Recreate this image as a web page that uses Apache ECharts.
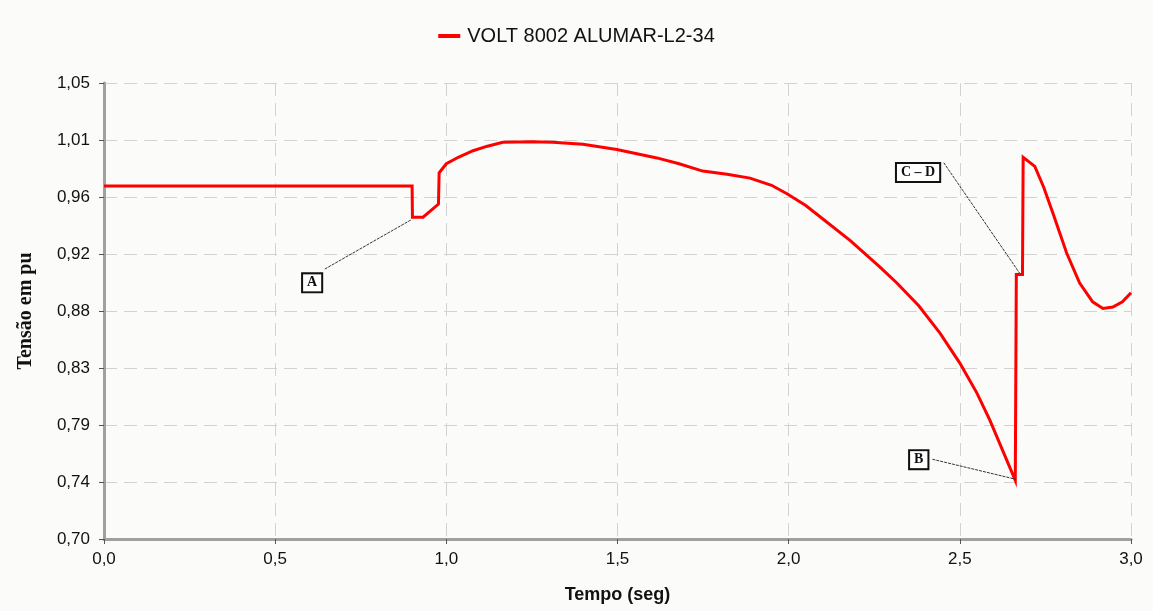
<!DOCTYPE html>
<html>
<head>
<meta charset="utf-8">
<script src="https://cdn.jsdelivr.net/npm/echarts@6/dist/echarts.min.js"></script>
<style>
  html, body { margin: 0; padding: 0; background: #fbfbf9; }
  #chart { width: 1153px; height: 611px; }
</style>
</head>
<body>
<div id="chart"></div>
<script>
// Voltage at bus 8002 (ALUMAR L2-34) over the simulated interval
const tempo = [
  0, 0.90, 0.901, 0.932, 0.977, 0.979, 1.0, 1.035, 1.078, 1.12, 1.165, 1.25,
  1.311, 1.399, 1.498, 1.56, 1.615, 1.68, 1.749, 1.82, 1.887, 1.95, 1.995,
  2.05, 2.10, 2.18, 2.266, 2.316, 2.38, 2.442, 2.5, 2.55, 2.588, 2.625, 2.662,
  2.665, 2.683, 2.685, 2.719, 2.745, 2.772, 2.812, 2.85, 2.888, 2.918, 2.947,
  2.975, 3.0
];
const tensao = [
  0.971, 0.971, 0.947, 0.947, 0.957, 0.981, 0.988, 0.993, 0.998, 1.0015, 1.0045, 1.005,
  1.0045, 1.003, 0.999, 0.9955, 0.9925, 0.988, 0.9824, 0.980, 0.977, 0.9715, 0.965,
  0.956, 0.9456, 0.929, 0.9088, 0.8965, 0.879, 0.858, 0.835, 0.812, 0.791, 0.768, 0.745,
  0.903, 0.903, 0.993, 0.986, 0.970, 0.950, 0.9195, 0.8965, 0.882, 0.877, 0.878,
  0.882, 0.889
];

// Event labels: box position and the curve point each one refers to
const eventos = ['A', 'B', 'C – D'];
const caixaPos = [[0.608, 0.8966], [2.380, 0.7609], [2.378, 0.9814]];
const guiaInicio = [[0.645, 0.9072], [2.420, 0.7612], [2.453, 0.9888]];
const guiaFim = [[0.896, 0.9448], [2.664, 0.7458], [2.675, 0.9039]];

const serieNome = 'VOLT 8002 ALUMAR-L2-34';
const eixoX = { min: 0, max: 3.0, step: 0.5 };
const eixoY = { min: 0.70, max: 1.05, step: 0.04375 };

const pontos = tempo.map((t, i) => [t, tensao[i]]);
const virgula = (v, d) => v.toFixed(d).replace('.', ',');

const fonteSans = 'Liberation Sans, Arial, sans-serif';
const fonteSerif = 'Liberation Serif, Times New Roman, serif';
const grade = { show: true, lineStyle: { color: '#d2d2d2', width: 1, type: [13, 7] } };

const chart = echarts.init(document.getElementById('chart'));
chart.setOption({
  backgroundColor: '#fbfbf9',
  animation: false,
  legend: {
    top: 21,
    left: 'center',
    icon: 'rect',
    itemWidth: 22,
    itemHeight: 4,
    itemGap: 12,
    textStyle: { fontFamily: fonteSans, fontSize: 20, color: '#111', padding: [0, 0, 0, 2] },
    data: [serieNome]
  },
  grid: { left: 104, right: 22, top: 83, bottom: 72 },
  xAxis: {
    type: 'value',
    min: eixoX.min, max: eixoX.max, interval: eixoX.step,
    name: 'Tempo (seg)',
    nameLocation: 'middle',
    nameGap: 47,
    nameTextStyle: { fontFamily: fonteSans, fontSize: 18, fontWeight: 'bold', color: '#111' },
    axisLine: { lineStyle: { color: '#a0a0a0', width: 3 } },
    axisTick: { show: true, length: 5, lineStyle: { color: '#555', width: 1 } },
    axisLabel: {
      margin: 12,
      fontFamily: fonteSans, fontSize: 17, color: '#111',
      formatter: v => virgula(v, 1)
    },
    splitLine: grade
  },
  yAxis: {
    type: 'value',
    min: eixoY.min, max: eixoY.max, interval: eixoY.step,
    name: 'Tensão em pu',
    nameLocation: 'middle',
    nameGap: 68,
    nameRotate: 90,
    nameTextStyle: { fontFamily: fonteSerif, fontSize: 20, fontWeight: 'bold', color: '#111' },
    axisLine: { show: true, lineStyle: { color: '#a0a0a0', width: 3 } },
    axisTick: { show: true, length: 5, lineStyle: { color: '#555', width: 1 } },
    axisLabel: {
      margin: 14,
      fontFamily: fonteSans, fontSize: 17, color: '#111',
      formatter: v => virgula(v, 2)
    },
    splitLine: grade
  },
  series: [{
    name: serieNome,
    type: 'line',
    data: pontos,
    showSymbol: false,
    symbol: 'none',
    lineStyle: { color: '#ff0000', width: 3, join: 'miter' },
    itemStyle: { color: '#ff0000' },
    markLine: {
      silent: true,
      symbol: ['none', 'none'],
      label: { show: false },
      lineStyle: { color: '#333', width: 1, type: [3, 1] },
      data: guiaInicio.map((p, i) => [{ coord: p }, { coord: guiaFim[i] }])
    },
    markPoint: {
      silent: true,
      symbol: 'rect',
      symbolSize: 1,
      itemStyle: { color: 'rgba(0,0,0,0)' },
      label: {
        show: true,
        position: 'inside',
        formatter: p => p.name,
        fontFamily: fonteSerif,
        fontSize: 14,
        fontWeight: 'bold',
        color: '#111',
        backgroundColor: '#fff',
        borderColor: '#111',
        borderWidth: 2,
        padding: [2, 4, 1, 4]
      },
      data: caixaPos.map((p, i) => ({ name: eventos[i], coord: p }))
    }
  }]
});
</script>
</body>
</html>
